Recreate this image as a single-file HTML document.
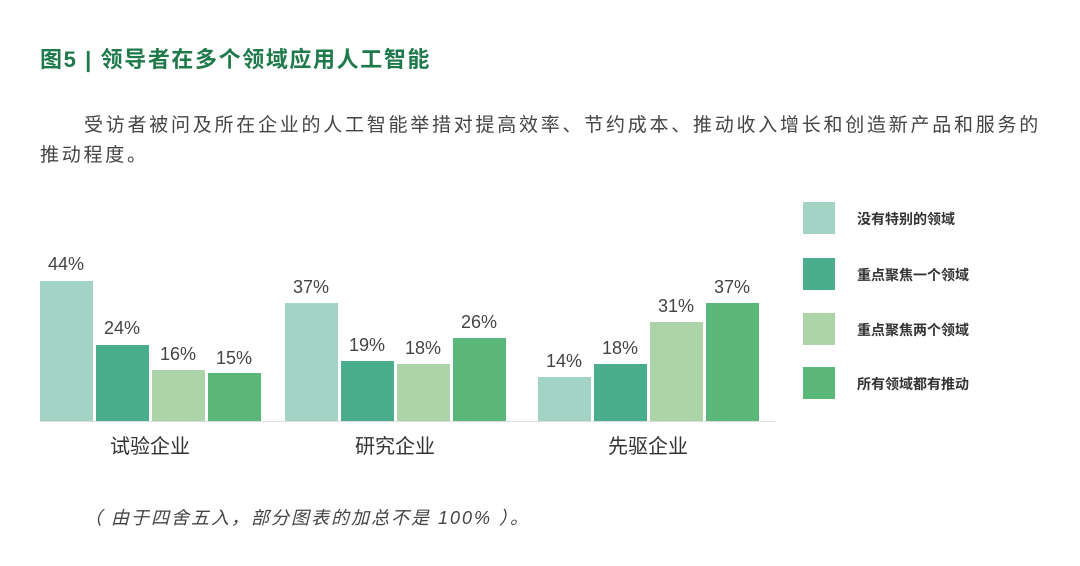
<!DOCTYPE html>
<html><head><meta charset="utf-8"><style>
body{margin:0;width:1080px;height:566px;background:#fff;position:relative;overflow:hidden;font-family:"Liberation Sans","Noto Sans CJK SC",sans-serif;}
.a{position:absolute;white-space:nowrap;}
.bar{position:absolute;width:53px;}
.v{position:absolute;width:60px;text-align:center;font-size:18px;color:#444;}
.lg{position:absolute;left:803px;width:32px;height:32px;}
.lt{position:absolute;left:857px;font-size:14px;font-weight:bold;color:#333;}
.c{position:absolute;font-size:20px;color:#333;width:200px;text-align:center;}
</style></head><body>
<div class="a" style="left:40px;top:42px;font-size:22px;font-weight:bold;color:#1e7a4a;letter-spacing:1.6px;">图5 | 领导者在多个领域应用人工智能</div>
<div class="a" style="left:84px;top:110px;font-size:19px;color:#444;letter-spacing:2.75px;">受访者被问及所在企业的人工智能举措对提高效率、节约成本、推动收入增长和创造新产品和服务的</div>
<div class="a" style="left:40px;top:140px;font-size:19px;color:#444;letter-spacing:2.75px;">推动程度。</div>
<div class="a" style="left:40px;top:421px;width:735px;height:1px;background:#ddd;"></div>

<div class="bar" style="left:40px;top:281px;height:140px;background:#a3d3c4"></div>
<div class="bar" style="left:96px;top:345px;height:76px;background:#4aae8c"></div>
<div class="bar" style="left:152px;top:370px;height:51px;background:#acd4a8"></div>
<div class="bar" style="left:208px;top:373px;height:48px;background:#5bb67a"></div>
<div class="v" style="left:36px;top:254px">44%</div>
<div class="v" style="left:92px;top:318px">24%</div>
<div class="v" style="left:148px;top:344px">16%</div>
<div class="v" style="left:204px;top:348px">15%</div>

<div class="bar" style="left:285px;top:303px;height:118px;background:#a3d3c4"></div>
<div class="bar" style="left:341px;top:361px;height:60px;background:#4aae8c"></div>
<div class="bar" style="left:397px;top:364px;height:57px;background:#acd4a8"></div>
<div class="bar" style="left:453px;top:338px;height:83px;background:#5bb67a"></div>
<div class="v" style="left:281px;top:277px">37%</div>
<div class="v" style="left:337px;top:335px">19%</div>
<div class="v" style="left:393px;top:338px">18%</div>
<div class="v" style="left:449px;top:312px">26%</div>

<div class="bar" style="left:538px;top:377px;height:44px;background:#a3d3c4"></div>
<div class="bar" style="left:594px;top:364px;height:57px;background:#4aae8c"></div>
<div class="bar" style="left:650px;top:322px;height:99px;background:#acd4a8"></div>
<div class="bar" style="left:706px;top:303px;height:118px;background:#5bb67a"></div>
<div class="v" style="left:534px;top:351px">14%</div>
<div class="v" style="left:590px;top:338px">18%</div>
<div class="v" style="left:646px;top:296px">31%</div>
<div class="v" style="left:702px;top:277px">37%</div>

<div class="c" style="left:50px;top:430px">试验企业</div>
<div class="c" style="left:295px;top:430px">研究企业</div>
<div class="c" style="left:548px;top:430px">先驱企业</div>

<div class="lg" style="top:202px;background:#a3d3c4"></div>
<div class="lg" style="top:258px;background:#4aae8c"></div>
<div class="lg" style="top:313px;background:#acd4a8"></div>
<div class="lg" style="top:367px;background:#5bb67a"></div>
<div class="lt" style="top:209px">没有特别的领域</div>
<div class="lt" style="top:265px">重点聚焦一个领域</div>
<div class="lt" style="top:320px">重点聚焦两个领域</div>
<div class="lt" style="top:374px">所有领域都有推动</div>

<div class="a" style="left:84px;top:504px;font-size:18px;font-style:italic;color:#444;letter-spacing:2px;">（ 由于四舍五入，部分图表的加总不是 100% ）。</div>
</body></html>
